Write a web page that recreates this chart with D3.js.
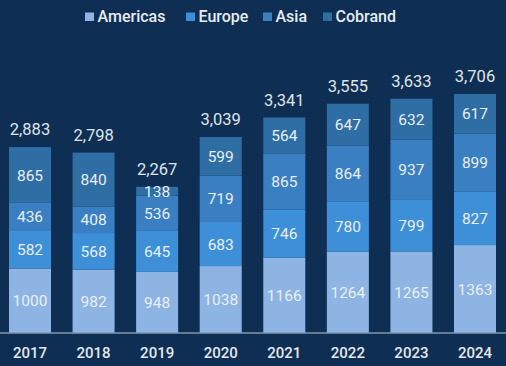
<!DOCTYPE html>
<html><head><meta charset="utf-8">
<script src="https://cdn.jsdelivr.net/npm/d3@7"></script>
<style>html,body{margin:0;padding:0;background:#0f2e54;}svg{display:block;}</style>
</head><body>
<svg id="c" width="506" height="366"></svg>
<script>
const years = ["2017","2018","2019","2020","2021","2022","2023","2024"];
const americas = [1000, 982, 948, 1038, 1166, 1264, 1265, 1363];
const europe = [582, 568, 645, 683, 746, 780, 799, 827];
const asia = [436, 408, 536, 719, 865, 864, 937, 899];
const cobrand = [865, 840, 138, 599, 564, 647, 632, 617];
const seriesNames = ["Americas", "Europe", "Asia", "Cobrand"];
const colors = ["#8db4e2", "#3d8fd8", "#3a7fc2", "#2f6da5"];

const data = years.map((y, i) => ({year: y, Americas: americas[i], Europe: europe[i], Asia: asia[i], Cobrand: cobrand[i]}));
const totals = data.map(d => d.Americas + d.Europe + d.Asia + d.Cobrand);

const svg = d3.select("#c");
svg.append("rect").attr("width", 506).attr("height", 366).attr("fill", "#0f2e54");

const x = d3.scaleBand().domain(years).range([9, 496]).paddingInner(0.339).paddingOuter(0);
const y = d3.scaleLinear().domain([0, d3.max(totals)]).range([333, 94]);

const stack = d3.stack().keys(seriesNames)(data);
const font = "Roboto, 'Noto Sans', sans-serif";

const g = svg.append("g");
stack.forEach((s, si) => {
  g.selectAll(null).data(s).enter().append("rect")
    .attr("x", d => x(d.data.year))
    .attr("width", x.bandwidth())
    .attr("y", d => y(d[1]))
    .attr("height", d => y(d[0]) - y(d[1]))
    .attr("fill", colors[si]);
  g.selectAll(null).data(s).enter().append("text")
    .attr("x", d => x(d.data.year) + x.bandwidth() / 2)
    .attr("y", d => (y(d[0]) + y(d[1])) / 2)
    .attr("dy", "0.36em")
    .attr("text-anchor", "middle")
    .attr("font-family", font)
    .attr("font-size", 15.5)
    .attr("fill", "#e9eff6")
    .text(d => d.data[seriesNames[si]]);
});

// totals
g.selectAll(null).data(data).enter().append("text")
  .attr("x", d => x(d.year) + x.bandwidth() / 2)
  .attr("y", (d, i) => y(totals[i]) - 12)
  .attr("text-anchor", "middle")
  .attr("font-family", font)
  .attr("font-size", 16.5)
  .attr("fill", "#dfe5ec")
  .text((d, i) => d3.format(",")(totals[i]));

// baseline
svg.append("line").attr("x1", 0).attr("x2", 506).attr("y1", 333).attr("y2", 333)
  .attr("stroke", "#8196ad").attr("stroke-width", 1.5);

// x axis
const xAxis = svg.append("g").attr("transform", "translate(0,333)")
  .call(d3.axisBottom(x).tickSize(0).tickPadding(14));
xAxis.select(".domain").remove();
xAxis.selectAll("text").attr("font-family", font).attr("font-size", 15)
  .attr("font-weight", 500).attr("fill", "#e3e9f0");

// legend
const legendX = [85, 186, 263, 323];
const leg = svg.append("g");
seriesNames.forEach((n, i) => {
  leg.append("rect").attr("x", legendX[i]).attr("y", 12.5).attr("width", 9).attr("height", 8.5).attr("fill", colors[i]);
  leg.append("text").attr("x", legendX[i] + 12.5).attr("y", 16.5).attr("dy", "0.35em")
    .attr("font-family", font).attr("font-size", 16).attr("font-weight", 500)
    .attr("fill", "#e6ecf3").text(n);
});
</script>
</body></html>
